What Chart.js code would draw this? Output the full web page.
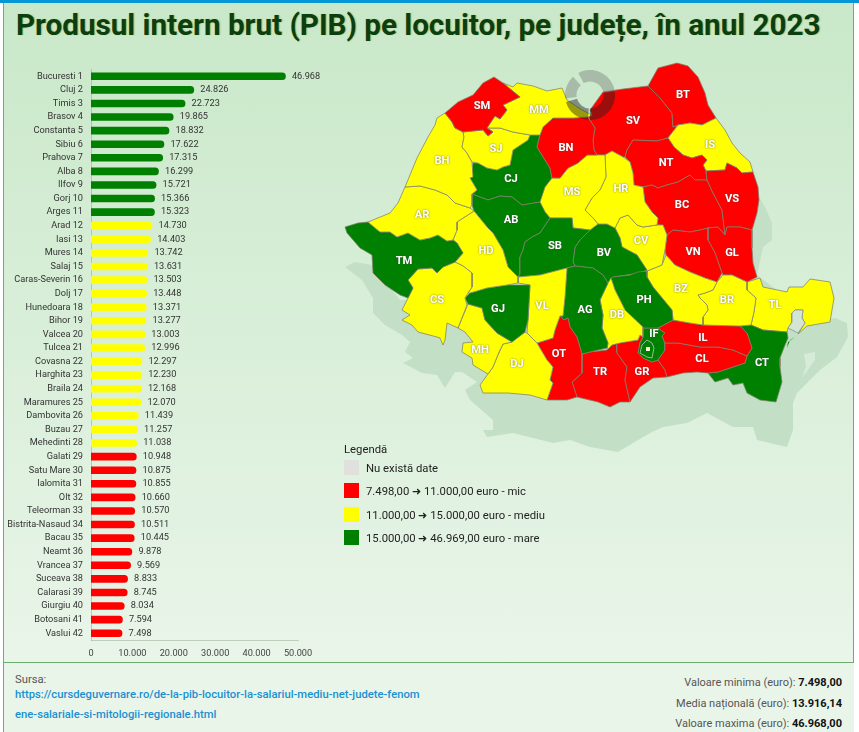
<!DOCTYPE html>
<html lang="ro">
<head>
<meta charset="utf-8">
<title>PIB pe locuitor</title>
<script src="https://cdn.jsdelivr.net/npm/chart.js@4"></script>
<style>
  html, body { margin: 0; padding: 0; background: #fff; font-family: Roboto, sans-serif; }
  #page { position: relative; width: 859px; height: 732px; overflow: hidden; }
  #topbar { position: absolute; left: 0; top: 0; width: 859px; height: 3px; background: #0596d5; }
  #panel { position: absolute; left: 3px; top: 3px; width: 851px; height: 729px; box-sizing: border-box;
           border-left: 1px solid #7ea583; border-right: 1px solid #6aad6d;
           background: linear-gradient(#c9e8c9, #e9f5e9 659px); }
  #footer { position: absolute; left: 4px; top: 662px; width: 850px; height: 70px; background: #eaf5ea; border-top: 1px solid #6aad6d; box-sizing: border-box; }
  h1 { position: absolute; left: 16px; top: 6px; margin: 0; font-size: 29.65px; line-height: 38px; font-weight: 700; color: #0b3f10;
       white-space: nowrap; text-shadow: 1px 0 1px rgba(130,150,30,.55); }
  canvas { position: absolute; }
  #legend { position: absolute; left: 344px; top: 443px; font-size: 11.3px; color: #222; }
  .legend-row { position: absolute; left: 0; white-space: nowrap; }
  .swatch { position: absolute; left: 0; top: 0; width: 15px; height: 15px; }
  .legend-row span { position: absolute; left: 22px; top: 2px; line-height: 14px; }
  .src { position: absolute; left: 15px; font-size: 11.25px; line-height: 14px; white-space: nowrap; }
  .src a { color: #1a90d0; font-weight: 500; text-decoration: none; }
  .stat { position: absolute; right: 17px; font-size: 11px; line-height: 14px; color: #555; white-space: nowrap; }
  .stat b { color: #111; font-weight: 700; }
</style>
</head>
<body>
<div id="page">
  <div id="panel"></div>
  <div id="topbar"></div>
  <h1>Produsul intern brut (PIB) pe locuitor, pe județe, în anul 2023</h1>
  <canvas id="barChart" width="340" height="605" style="left:0;top:60px"></canvas>
  <canvas id="mapChart" width="515" height="420" style="left:340px;top:50px"></canvas>
  <canvas id="spinner" width="50" height="50" style="left:565px;top:70px"></canvas>
  <div id="legend"></div>
  <div id="footer"></div>
  <div class="src" style="top:673px;color:#555">Sursa:</div>
  <div class="src" style="top:688px"><a>https://cursdeguvernare.ro/de-la-pib-locuitor-la-salariul-mediu-net-judete-fenom</a></div>
  <div class="src" style="top:708px"><a>ene-salariale-si-mitologii-regionale.html</a></div>
  <div class="stat" style="top:676px">Valoare minima (euro): <b>7.498,00</b></div>
  <div class="stat" style="top:697px">Media națională (euro): <b>13.916,14</b></div>
  <div class="stat" style="top:717px">Valoare maxima (euro): <b>46.968,00</b></div>
</div>

<script>
const countyNames = ['Bucuresti 1','Cluj 2','Timis 3','Brasov 4','Constanta 5','Sibiu 6','Prahova 7','Alba 8','Ilfov 9','Gorj 10','Arges 11','Arad 12','Iasi 13','Mures 14','Salaj 15','Caras-Severin 16','Dolj 17','Hunedoara 18','Bihor 19','Valcea 20','Tulcea 21','Covasna 22','Harghita 23','Braila 24','Maramures 25','Dambovita 26','Buzau 27','Mehedinti 28','Galati 29','Satu Mare 30','Ialomita 31','Olt 32','Teleorman 33','Bistrita-Nasaud 34','Bacau 35','Neamt 36','Vrancea 37','Suceava 38','Calarasi 39','Giurgiu 40','Botosani 41','Vaslui 42'];
const countyCodes = ['B','CJ','TM','BV','CT','SB','PH','AB','IF','GJ','AG','AR','IS','MS','SJ','CS','DJ','HD','BH','VL','TL','CV','HR','BR','MM','DB','BZ','MH','GL','SM','IL','OT','TR','BN','BC','NT','VN','SV','CL','GR','BT','VS'];
const countyValues = [46968,24826,22723,19865,18832,17622,17315,16299,15721,15366,15323,14730,14403,13742,13631,13503,13448,13371,13277,13003,12996,12297,12230,12168,12070,11439,11257,11038,10948,10875,10855,10660,10570,10511,10445,9878,9569,8833,8745,8034,7594,7498];
const xTickLabels = ['0','10.000','20.000','30.000','40.000','50.000'];

const legendLabels = ['Nu există date','7.498,00 ➜ 11.000,00 euro - mic','11.000,00 ➜ 15.000,00 euro - mediu','15.000,00 ➜ 46.969,00 euro - mare'];
const legendColors = ['#e0e0dc','#ff0000','#ffff00','#008000'];

// county outlines, in the map's own x/y units
const outlines = {
  SM: [[445,113],[458,102],[473,95],[483,83],[494,77],[503,83],[520,97],[503,105],[507,110],[500,119],[495,116],[487,128],[493,132],[488,136],[483,130],[463,132],[455,128],[452,122]],
  MM: [[503,83],[513,87],[517,83],[533,86],[547,91],[562,88],[567,100],[582,110],[592,115],[588,117],[573,118],[553,118],[543,127],[540,135],[530,135],[513,132],[500,128],[487,128],[495,116],[500,119],[507,110],[503,105],[520,97]],
  BN: [[553,118],[573,118],[588,117],[595,128],[593,140],[594,150],[597,155],[587,155],[578,163],[568,168],[560,178],[552,178],[550,168],[545,160],[537,147],[540,135],[543,127]],
  SJ: [[464,137],[463,132],[483,130],[488,136],[493,132],[487,128],[500,128],[513,132],[530,135],[528,140],[513,150],[510,165],[503,167],[497,170],[487,168],[478,163],[472,162],[467,153],[462,147]],
  BH: [[445,113],[452,122],[455,128],[463,132],[464,137],[462,147],[467,153],[472,162],[473,177],[470,178],[477,190],[472,194],[472,205],[470,208],[455,203],[447,195],[435,190],[420,186],[405,187],[410,175],[417,158],[428,137],[435,125],[437,118]],
  AR: [[405,187],[420,186],[435,190],[447,195],[455,203],[470,208],[474,211],[457,222],[457,230],[453,240],[447,241],[438,235],[430,238],[420,240],[408,233],[397,237],[390,232],[380,232],[368,222],[390,213],[398,203]],
  TM: [[345,227],[358,223],[368,222],[380,232],[390,232],[397,237],[408,233],[420,240],[430,238],[438,235],[447,241],[453,240],[457,243],[463,253],[455,262],[443,267],[437,273],[432,268],[418,269],[408,280],[413,288],[408,298],[400,295],[385,285],[373,273],[372,255],[360,248],[347,233]],
  CS: [[418,269],[432,268],[437,273],[443,267],[455,262],[463,266],[472,273],[472,287],[468,293],[465,298],[467,305],[458,328],[447,323],[445,340],[443,345],[440,338],[437,337],[418,332],[412,325],[402,320],[410,315],[402,310],[408,298],[413,288],[408,280]],
  HD: [[474,211],[487,227],[493,233],[503,250],[508,267],[518,277],[518,283],[507,285],[487,288],[470,293],[468,293],[472,287],[472,273],[463,266],[455,262],[463,253],[457,243],[453,240],[457,230],[457,222]],
  GJ: [[465,298],[470,293],[487,288],[507,285],[530,285],[528,320],[525,332],[512,342],[497,333],[485,320],[482,308],[468,304]],
  VL: [[518,277],[540,275],[567,268],[565,297],[563,316],[560,316],[555,330],[553,338],[537,343],[527,333],[528,320],[530,285],[518,283]],
  MH: [[468,304],[482,308],[485,320],[497,333],[512,342],[503,344],[500,350],[497,357],[493,367],[488,374],[473,365],[472,358],[462,352],[463,343],[473,342],[465,332],[458,328]],
  DJ: [[512,342],[525,332],[527,333],[537,343],[547,360],[553,367],[550,380],[553,383],[547,400],[530,395],[508,393],[483,393],[480,385],[488,374],[493,367],[497,357],[503,344]],
  OT: [[537,343],[553,338],[555,330],[560,316],[564,320],[568,318],[570,327],[577,337],[582,354],[582,373],[572,382],[577,397],[567,400],[547,400],[553,383],[550,380],[553,367],[547,360]],
  AG: [[567,268],[575,266],[593,268],[603,275],[608,283],[600,300],[603,315],[602,328],[608,343],[607,348],[590,352],[582,354],[577,337],[570,327],[568,318],[564,320],[560,316],[563,316],[565,297]],
  DB: [[611,278],[615,290],[625,310],[643,327],[643,337],[640,335],[638,340],[620,343],[612,345],[607,350],[608,343],[602,328],[603,315],[600,300],[608,283]],
  PH: [[613,277],[630,275],[638,272],[647,271],[647,277],[653,287],[672,310],[673,320],[658,328],[643,328],[625,310],[615,290],[611,278]],
  SB: [[550,218],[572,218],[573,228],[590,230],[580,240],[575,247],[573,262],[575,266],[567,268],[540,275],[518,277],[520,274],[520,257],[523,250],[525,242],[532,237],[540,233]],
  AB: [[472,194],[488,200],[500,196],[512,197],[522,205],[540,202],[545,212],[550,218],[540,233],[532,237],[525,242],[523,250],[520,257],[520,274],[518,277],[508,267],[503,250],[493,233],[487,227],[474,211],[472,205]],
  CJ: [[530,135],[540,135],[537,147],[545,160],[550,168],[552,178],[545,187],[540,202],[522,205],[512,197],[500,196],[488,200],[472,194],[477,190],[470,178],[473,163],[478,163],[487,168],[497,170],[503,167],[510,165],[513,150],[528,140]],
  MS: [[552,178],[560,178],[568,168],[578,163],[587,155],[597,155],[605,155],[606,177],[600,190],[592,198],[585,210],[593,218],[598,224],[590,230],[573,228],[572,218],[550,218],[545,212],[538,200],[547,180]],
  HR: [[605,155],[612,151],[623,157],[630,162],[633,173],[634,185],[643,187],[645,202],[652,212],[658,218],[657,225],[643,227],[637,225],[628,215],[620,218],[615,228],[607,224],[598,224],[593,218],[585,210],[592,198],[600,190],[606,177]],
  BV: [[575,247],[580,240],[590,230],[598,224],[607,224],[615,228],[620,238],[622,247],[637,255],[647,270],[640,273],[613,277],[608,283],[603,275],[593,268],[575,266],[573,262]],
  CV: [[615,228],[620,218],[628,215],[637,225],[643,227],[657,225],[663,225],[667,235],[665,250],[662,265],[647,271],[637,255],[622,247],[620,238]],
  BZ: [[647,271],[662,265],[666,255],[675,265],[690,272],[705,278],[717,282],[713,290],[705,293],[698,295],[700,298],[707,305],[708,310],[703,317],[703,325],[690,323],[673,320],[672,310],[653,287],[647,277]],
  BR: [[717,282],[723,275],[732,275],[747,282],[747,290],[756,298],[754,312],[751,325],[740,326],[703,325],[703,317],[708,310],[707,305],[700,298],[698,295],[705,293],[713,290]],
  VN: [[667,235],[673,230],[690,232],[700,230],[708,228],[708,240],[715,253],[722,273],[717,282],[705,278],[690,272],[675,265],[666,255],[665,250]],
  GL: [[708,228],[718,227],[725,235],[727,227],[740,227],[752,230],[752,248],[753,263],[757,277],[747,282],[732,275],[723,275],[722,273],[715,253],[708,240]],
  VS: [[706,171],[725,170],[727,163],[737,168],[742,173],[753,172],[758,187],[759,200],[757,213],[752,230],[740,227],[727,227],[725,235],[722,210],[713,193],[707,180]],
  BC: [[643,187],[652,185],[658,188],[667,185],[678,182],[690,175],[695,180],[707,180],[713,193],[722,210],[725,235],[718,227],[708,228],[700,230],[690,232],[673,230],[667,235],[663,225],[657,225],[658,218],[652,212],[645,202]],
  NT: [[633,140],[657,141],[668,138],[674,147],[683,155],[692,158],[702,155],[707,160],[703,165],[706,171],[707,180],[695,180],[690,175],[678,182],[667,185],[658,188],[652,185],[643,187],[634,185],[633,173],[630,162],[625,157],[627,150]],
  IS: [[668,138],[678,125],[690,123],[702,125],[716,118],[725,130],[732,143],[740,153],[750,162],[753,172],[742,173],[737,168],[727,163],[725,170],[706,171],[703,165],[707,160],[702,155],[692,158],[683,155],[674,147]],
  BT: [[648,86],[658,68],[677,63],[688,66],[698,77],[705,93],[708,105],[716,118],[702,125],[690,123],[678,125],[673,127],[672,113],[660,98]],
  SV: [[590,110],[603,92],[623,89],[648,86],[660,98],[672,113],[673,127],[678,125],[668,138],[657,141],[633,140],[627,150],[625,157],[623,157],[612,151],[605,155],[597,155],[594,150],[593,140],[595,128],[588,117],[592,115]],
  IL: [[658,328],[673,320],[690,323],[703,325],[740,326],[747,333],[752,348],[747,356],[733,350],[718,347],[700,347],[678,343],[665,343],[662,336],[665,333]],
  CL: [[665,343],[678,343],[700,347],[718,347],[733,350],[747,356],[745,363],[730,368],[718,372],[708,373],[697,372],[683,373],[667,377],[665,370],[658,360],[665,350]],
  IF: [[643,328],[658,328],[665,333],[662,336],[665,343],[665,350],[658,360],[652,362],[643,358],[638,353],[640,343],[643,337]],
  GR: [[617,343],[638,340],[640,335],[643,337],[640,343],[638,353],[643,358],[652,362],[658,360],[665,370],[667,377],[653,378],[640,387],[630,402],[625,380],[627,367],[617,353]],
  TR: [[582,354],[590,352],[607,350],[612,345],[617,343],[617,353],[627,367],[625,380],[630,402],[620,402],[610,407],[598,402],[577,397],[572,382],[582,373]],
  CT: [[740,326],[751,325],[763,330],[787,332],[788,338],[785,345],[780,358],[780,367],[782,382],[776,402],[760,400],[747,393],[743,383],[733,385],[728,378],[715,382],[708,373],[718,372],[730,368],[745,363],[747,356],[752,348],[747,333]],
  TL: [[747,282],[760,278],[763,287],[787,292],[789,287],[803,287],[810,279],[830,282],[834,298],[830,322],[807,326],[798,334],[805,323],[802,318],[803,310],[795,310],[792,313],[792,322],[788,328],[787,332],[763,330],[751,325],[754,312],[756,298],[747,290]],
};
const bucharestOutline = [[642,345],[647,340],[652,343],[654,348],[652,358],[647,357],[640,353]];
const bucharestCore = [[646,347],[650,347],[650,351],[646,351]];
const deltaSliver = [[795,337],[790,340],[787,348],[788,342]];
const deltaLake = [[792,313],[795,310],[803,310],[802,318],[805,323],[798,333],[788,328],[792,322]];
const shadowOutline = [[755,190],[765,207],[772,223],[772,240],[763,247],[757,275],[790,300],[825,320],[835,318],[847,323],[848,337],[837,357],[820,370],[797,393],[793,403],[793,430],[787,447],[757,440],[753,427],[733,427],[720,420],[707,413],[687,423],[663,427],[650,433],[633,443],[618,452],[590,447],[570,440],[553,443],[533,438],[513,433],[487,437],[483,430],[493,430],[493,420],[470,400],[465,390],[477,382],[462,372],[455,372],[445,388],[437,375],[422,373],[403,363],[413,358],[405,352],[410,342],[402,335],[385,325],[373,313],[373,298],[362,280],[345,267],[355,262],[372,265],[400,300],[500,300],[700,200]];
const shadowLake = [[804,354],[815,352],[815,360],[808,370],[802,378],[806,366]];

const countyLabelAt = {
  SM:[482,106],MM:[539,110],BN:[566,148],SV:[633,121],BT:[683,95],IS:[710,145],NT:[666,163],HR:[621,189],MS:[572,192],BH:[442,161],SJ:[496,149],CJ:[511,179],
  AR:[422,215],AB:[511,220],SB:[555,246],TM:[404,261],HD:[486,251],CS:[437,300],GJ:[498,309],VL:[542,306],MH:[480,350],DJ:[517,364],OT:[559,354],TR:[600,372],
  GR:[642,372],AG:[585,310],DB:[617,315],PH:[644,300],IF:[654,334],IL:[703,338],CL:[702,359],CT:[762,363],BZ:[681,289],BR:[727,300],TL:[775,305],VN:[693,252],
  GL:[732,253],BC:[682,205],VS:[732,199],CV:[641,241],BV:[604,253],
};

const spinnerArcs = [110, 98, 5, 69, 8, 55, 15];
const spinnerColors = ['rgba(100,100,100,.35)','rgba(30,30,30,.45)','rgba(0,0,0,0)','rgba(30,30,30,.45)','rgba(0,0,0,0)','rgba(100,100,100,.35)','rgba(0,0,0,0)'];

function colorFor(value) {
  if (value < 11000) return '#ff0000';
  return value < 15000 ? '#ffff00' : '#008000';
}
function formatValue(value) {
  return String(value).replace(/\B(?=(\d{3})+$)/g, '.');
}
function polygon(outline, fillColor, lineColor, order) {
  return {
    data: outline.concat([outline[0]]).map(p => ({ x: p[0], y: p[1] })),
    showLine: true,
    fill: false,
    polygonFill: fillColor,
    borderColor: lineColor,
    borderWidth: lineColor === fillColor ? 0 : 1,
    tension: 0,
    pointRadius: 0,
    order: order,
  };
}

// bar value labels, drawn at the end of each bar
const valueLabels = {
  id: 'valueLabels',
  afterDatasetsDraw(chart) {
    const ctx = chart.ctx;
    ctx.save();
    ctx.font = '9.2px Roboto';
    ctx.fillStyle = '#333';
    ctx.textBaseline = 'middle';
    chart.getDatasetMeta(0).data.forEach((bar, i) => {
      ctx.fillText(formatValue(countyValues[i]), bar.x + 6.5, bar.y);
    });
    ctx.restore();
  }
};

new Chart(document.getElementById('barChart'), {
  type: 'bar',
  data: {
    labels: countyNames,
    datasets: [{
      data: countyValues,
      backgroundColor: countyValues.map(colorFor),
      barThickness: 7,
      borderRadius: { topRight: 3.5, bottomRight: 3.5, topLeft: 0, bottomLeft: 0 },
      borderSkipped: false,
    }]
  },
  options: {
    indexAxis: 'y',
    responsive: false,
    animation: false,
    events: [],
    layout: { padding: { left: 0, right: 42, top: 9.5, bottom: 0 } },
    plugins: { legend: { display: false }, tooltip: { enabled: false } },
    scales: {
      x: {
        min: 0,
        max: 50000,
        afterFit(scale) { scale.height = 25; },
        grid: { display: false, drawTicks: false },
        border: { color: 'rgba(90,120,90,.3)', dash: [1, 2] },
        ticks: { stepSize: 10000, maxRotation: 0, padding: 8, color: '#444', font: { family: 'Roboto', size: 9.2 },
          callback(value, i) { return xTickLabels[i]; } },
      },
      y: {
        afterFit(scale) { scale.width = 91; scale.paddingTop = 0; scale.paddingBottom = 0; },
        grid: { display: false, drawTicks: false },
        border: { color: 'rgba(150,175,150,.6)' },
        ticks: { autoSkip: false, padding: 8, color: '#333', font: { family: 'Roboto', size: 9.2 } },
      },
    },
  },
  plugins: [valueLabels],
});

// fills each closed outline from the points the scales placed
const polygonFill = {
  id: 'polygonFill',
  beforeDatasetDraw(chart, args) {
    const color = chart.data.datasets[args.index].polygonFill;
    const ctx = chart.ctx;
    ctx.save();
    ctx.fillStyle = color;
    ctx.beginPath();
    args.meta.data.forEach((pt, i) => {
      if (i === 0) ctx.moveTo(pt.x, pt.y);
      else ctx.lineTo(pt.x, pt.y);
    });
    ctx.closePath();
    ctx.fill();
    ctx.restore();
  }
};

// county codes over the map
const countyLabels = {
  id: 'countyLabels',
  afterDatasetsDraw(chart) {
    const ctx = chart.ctx;
    ctx.save();
    ctx.font = 'bold 11.2px Roboto';
    ctx.textAlign = 'center';
    ctx.textBaseline = 'middle';
    ctx.fillStyle = '#fff';
    ctx.shadowColor = 'rgba(70,70,70,.75)';
    ctx.shadowBlur = 2;
    Object.keys(countyLabelAt).forEach(code => {
      const at = countyLabelAt[code];
      ctx.fillText(code, chart.scales.x.getPixelForValue(at[0]), chart.scales.y.getPixelForValue(at[1]));
    });
    ctx.restore();
  }
};

const borderColor = 'rgba(125,130,110,.75)';
const mapDatasets = [
  polygon(shadowOutline, '#c3dfc5', '#c3dfc5', 100),
  polygon(shadowLake, '#d6ebd8', '#d6ebd8', 99),
];
Object.keys(outlines).forEach(code => {
  const value = countyValues[countyCodes.indexOf(code)];
  mapDatasets.push(polygon(outlines[code], colorFor(value), borderColor, 50));
});
mapDatasets.push(polygon(deltaLake, '#d3e6d5', 'rgba(140,150,135,.8)', 45));
mapDatasets.push(polygon(bucharestOutline, '#008000', 'rgba(170,190,170,.9)', 10));
mapDatasets.push(polygon(bucharestCore, '#f4f4d8', '#f4f4d8', 9));
mapDatasets.push(polygon(deltaSliver, '#008000', '#008000', 10));

new Chart(document.getElementById('mapChart'), {
  type: 'scatter',
  data: { datasets: mapDatasets },
  options: {
    responsive: false,
    animation: false,
    events: [],
    plugins: { legend: { display: false }, tooltip: { enabled: false } },
    scales: {
      x: { type: 'linear', display: false, min: 340, max: 855 },
      y: { type: 'linear', display: false, min: 50, max: 470, reverse: true },
    },
  },
  plugins: [polygonFill, countyLabels],
});

new Chart(document.getElementById('spinner'), {
  type: 'doughnut',
  data: { datasets: [{ data: spinnerArcs, backgroundColor: spinnerColors, borderWidth: 0 }] },
  options: {
    responsive: false,
    animation: false,
    events: [],
    rotation: -28,
    cutout: '54%',
    plugins: { legend: { display: false }, tooltip: { enabled: false } },
  },
});

// legend box
const legendBox = document.getElementById('legend');
legendBox.innerHTML = '<div style="position:absolute;left:0;top:0;white-space:nowrap">Legendă</div>';
const legendTops = [17, 40, 64, 87];
legendLabels.forEach((label, i) => {
  const row = document.createElement('div');
  row.className = 'legend-row';
  row.style.top = legendTops[i] + 'px';
  row.innerHTML = '<div class="swatch" style="background:' + legendColors[i] + '"></div><span>' + label + '</span>';
  legendBox.appendChild(row);
});
</script>
</body>
</html>
